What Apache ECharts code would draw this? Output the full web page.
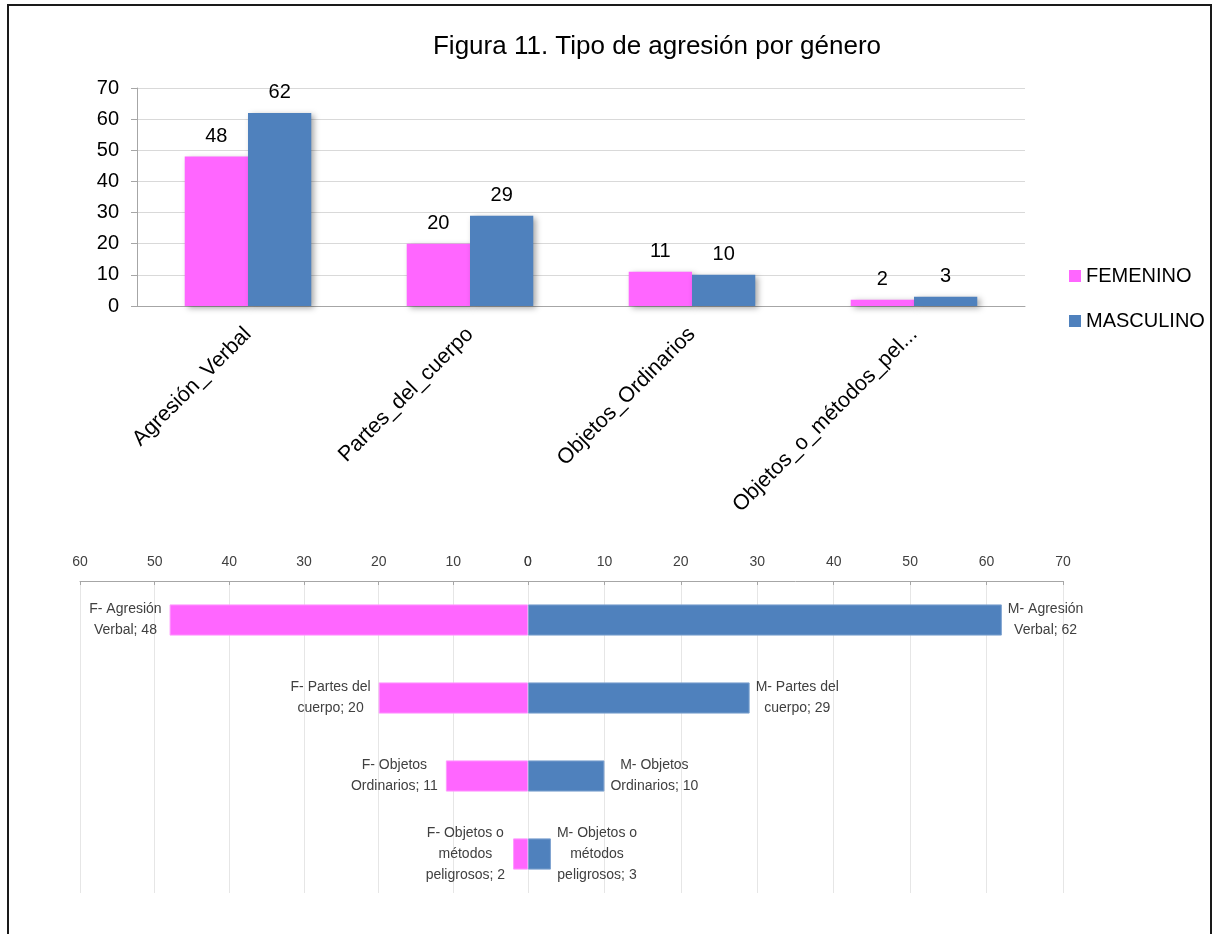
<!DOCTYPE html>
<html>
<head>
<meta charset="utf-8">
<script src="https://cdn.jsdelivr.net/npm/echarts@6/dist/echarts.min.js"></script>
<style>
html,body{margin:0;padding:0;background:#fff;}
#c{width:1215px;height:934px;}
</style>
</head>
<body>
<div id="c"></div>
<script>
// ---- data ----
var titleText = 'Figura 11. Tipo de agresión por género';
var categories = ['Agresión_Verbal', 'Partes_del_cuerpo', 'Objetos_Ordinarios', 'Objetos_o_métodos_peligrosos'];
var femenino = [48, 20, 11, 2];
var masculino = [62, 29, 10, 3];
var seriesNames = ['FEMENINO', 'MASCULINO'];
var femLabels = ['F- Agresión\nVerbal', 'F- Partes del\ncuerpo', 'F- Objetos\nOrdinarios', 'F- Objetos o\nmétodos\npeligrosos'];
var mascLabels = ['M- Agresión\nVerbal', 'M- Partes del\ncuerpo', 'M- Objetos\nOrdinarios', 'M- Objetos o\nmétodos\npeligrosos'];
var yTicksTop = { min: 0, max: 70, interval: 10 };
var leftAxis = { min: 0, max: 60, interval: 10 };
var rightAxis = { min: 0, max: 70, interval: 10 };

var PINK = '#FF66FF';
var BLUE = '#4F81BD';
var FONT = '"Liberation Sans", Arial, sans-serif';

function richLines(text) {
  return text.split('\n').map(function (l) { return '{c|' + l + '}'; }).join('\n');
}

var chart = echarts.init(document.getElementById('c'), null, { renderer: 'canvas' });
var option = {
  animation: false,
  backgroundColor: '#fff',
  textStyle: { fontFamily: FONT },
  title: {
    text: titleText,
    left: 652, top: 29, textAlign: 'center',
    textStyle: { fontFamily: FONT, fontSize: 26, fontWeight: 'normal', color: '#000' }
  },
  legend: {
    data: seriesNames,
    orient: 'vertical',
    left: 1064, top: 261,
    itemWidth: 12, itemHeight: 12, itemGap: 25,
    icon: 'rect',
    textStyle: { fontFamily: FONT, fontSize: 20, color: '#000', padding: [0, 0, 0, 0] }
  },
  graphic: [{
    type: 'rect', silent: true, z: 100,
    shape: { x: 8, y: 5, width: 1203, height: 1000 },
    style: { fill: 'none', stroke: '#1a1a1a', lineWidth: 2 }
  }],
  grid: [
    { left: 137, top: 88, width: 888, height: 218 },
    { left: 80, top: 581, width: 448, height: 312 },
    { left: 528, top: 581, width: 535, height: 312 }
  ],
  xAxis: [
    {
      type: 'category', gridIndex: 0, data: categories,
      axisLine: { lineStyle: { color: '#A6A6A6' } },
      axisTick: { length: 7, lineStyle: { color: '#A6A6A6' } },
      axisLabel: {
        rotate: 45, margin: 25, fontSize: 21.5, color: '#000', fontFamily: FONT, interval: 0,
        formatter: function (v) { return v.length > 21 ? v.slice(0, 21) + '...' : v; }
      }
    },
    {
      type: 'value', gridIndex: 1, position: 'top', inverse: true,
      min: leftAxis.min, max: leftAxis.max, interval: leftAxis.interval,
      axisLine: { show: true, lineStyle: { color: '#A6A6A6' } },
      axisTick: { show: true, inside: true, length: 4, lineStyle: { color: '#A6A6A6' } },
      axisLabel: { fontSize: 14, color: '#404040', margin: 12, fontFamily: FONT },
      splitLine: { show: true, lineStyle: { color: '#E6E6E6' } }
    },
    {
      type: 'value', gridIndex: 2, position: 'top',
      min: rightAxis.min, max: rightAxis.max, interval: rightAxis.interval,
      axisLine: { show: true, lineStyle: { color: '#A6A6A6' } },
      axisTick: { show: true, inside: true, length: 4, lineStyle: { color: '#A6A6A6' } },
      axisLabel: { fontSize: 14, color: '#404040', margin: 12, fontFamily: FONT },
      splitLine: { show: true, lineStyle: { color: '#E6E6E6' } }
    }
  ],
  yAxis: [
    {
      type: 'value', gridIndex: 0,
      min: yTicksTop.min, max: yTicksTop.max, interval: yTicksTop.interval,
      axisLine: { show: true, lineStyle: { color: '#A6A6A6' } },
      axisTick: { show: true, length: 6, lineStyle: { color: '#A6A6A6' } },
      axisLabel: { fontSize: 20, color: '#000', margin: 18, fontFamily: FONT },
      splitLine: { show: true, lineStyle: { color: '#D9D9D9' } }
    },
    {
      type: 'category', gridIndex: 1, data: categories, inverse: true,
      axisLine: { show: false }, axisTick: { show: false }, axisLabel: { show: false }
    },
    {
      type: 'category', gridIndex: 2, data: categories, inverse: true,
      axisLine: { show: false }, axisTick: { show: false }, axisLabel: { show: false }
    }
  ],
  series: [
    {
      name: seriesNames[0], type: 'bar', xAxisIndex: 0, yAxisIndex: 0,
      data: femenino, barGap: '0%', barCategoryGap: '43%',
      itemStyle: { color: PINK, shadowColor: 'rgba(0,0,0,0.35)', shadowBlur: 6, shadowOffsetX: 3, shadowOffsetY: 2 },
      label: { show: true, position: 'top', distance: 10, fontSize: 20, color: '#000', fontFamily: FONT }
    },
    {
      name: seriesNames[1], type: 'bar', xAxisIndex: 0, yAxisIndex: 0,
      data: masculino, barGap: '0%', barCategoryGap: '43%',
      itemStyle: { color: BLUE, shadowColor: 'rgba(0,0,0,0.35)', shadowBlur: 6, shadowOffsetX: 3, shadowOffsetY: 2 },
      label: { show: true, position: 'top', distance: 10, fontSize: 20, color: '#000', fontFamily: FONT }
    },
    {
      name: 'F', type: 'bar', xAxisIndex: 1, yAxisIndex: 1,
      data: femenino, barCategoryGap: '60%',
      itemStyle: { color: PINK, borderColor: '#FF99FF', borderWidth: 1 },
      label: {
        show: true, position: 'left', distance: 8, color: '#404040',
        formatter: function (p) { return richLines(femLabels[p.dataIndex] + '; ' + p.value); },
        rich: { c: { align: 'center', fontSize: 14, lineHeight: 21, color: '#404040', fontFamily: FONT } }
      }
    },
    {
      name: 'M', type: 'bar', xAxisIndex: 2, yAxisIndex: 2,
      data: masculino, barCategoryGap: '60%',
      itemStyle: { color: BLUE, borderColor: '#7FA3D0', borderWidth: 1 },
      label: {
        show: true, position: 'right', distance: 6, color: '#404040',
        formatter: function (p) { return richLines(mascLabels[p.dataIndex] + '; ' + p.value); },
        rich: { c: { align: 'center', fontSize: 14, lineHeight: 21, color: '#404040', fontFamily: FONT } }
      }
    }
  ]
};
chart.setOption(option);
</script>
</body>
</html>
